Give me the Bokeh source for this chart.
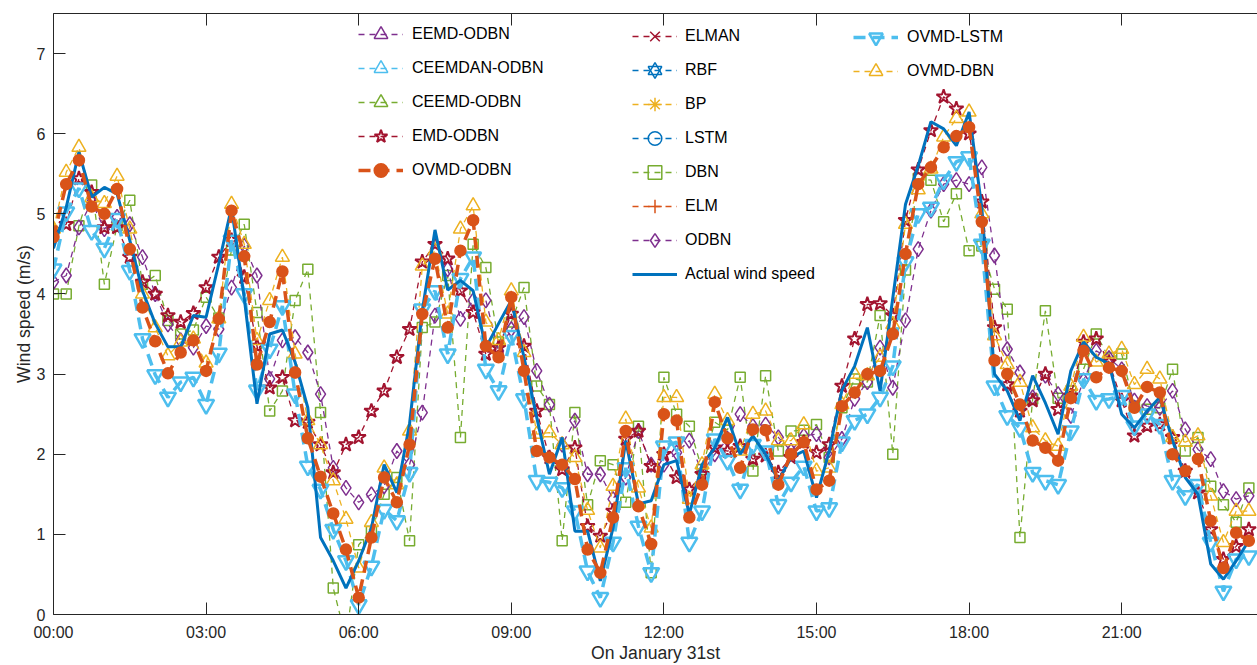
from bokeh.plotting import figure
from bokeh.models import (ColumnDataSource, Legend, LegendItem, LinearAxis,
                          FixedTicker, Range1d)
from bokeh.embed import file_html
from bokeh.resources import INLINE

# 15-minute samples on January 31st (wind speed, m/s)
step_hours = 0.25

actual_speed = [4.57, 5.08, 5.77, 5.21, 5.33, 5.25, 4.67, 4.04, 3.63, 3.34, 3.34, 3.73, 3.71, 4.38, 5.08, 3.95,
                2.63, 3.50, 3.55, 3.15, 2.58, 0.96, 0.67, 0.33, 0.67, 1.08, 1.87, 1.52, 2.38, 3.79, 4.80, 4.05,
                4.17, 4.04, 3.33, 3.63, 3.92, 3.21, 2.46, 1.75, 2.21, 1.04, 1.04, 0.42, 1.08, 2.17, 1.38, 1.42,
                1.87, 1.92, 1.25, 1.87, 2.08, 2.46, 2.00, 2.23, 2.00, 1.67, 1.96, 2.04, 1.46, 2.04, 2.80, 3.10,
                3.58, 2.79, 3.95, 5.12, 5.60, 6.15, 6.06, 5.85, 6.27, 5.08, 3.00, 2.79, 2.42, 2.98, 2.64, 2.25,
                3.04, 3.40, 3.21, 3.13, 2.50, 2.33, 2.54, 2.71, 2.17, 1.71, 1.50, 0.63, 0.44, 0.67, 0.92]

ovmd_odbn = [4.71, 5.37, 5.67, 5.09, 5.00, 5.31, 4.56, 3.83, 3.41, 3.01, 3.27, 3.42, 3.04, 3.69, 5.04, 4.47,
             3.12, 3.65, 4.28, 3.02, 2.20, 1.72, 1.26, 0.81, 0.21, 0.96, 1.71, 1.40, 2.12, 3.75, 4.44, 3.58,
             4.54, 4.92, 3.35, 3.21, 3.96, 3.04, 2.04, 1.96, 1.87, 1.69, 0.81, 0.52, 1.21, 2.29, 1.35, 0.88,
             2.50, 2.42, 1.21, 1.62, 2.65, 2.20, 1.83, 2.31, 2.30, 1.62, 2.00, 2.15, 1.56, 1.67, 2.60, 2.77,
             3.00, 3.04, 3.50, 4.50, 5.37, 5.58, 5.83, 5.97, 6.08, 4.90, 3.17, 3.00, 2.62, 2.17, 2.08, 1.92,
             2.70, 3.29, 2.96, 3.08, 3.04, 2.58, 2.84, 2.77, 2.00, 1.79, 1.94, 1.17, 0.58, 1.02, 0.92]

ovmd_lstm = [4.31, 5.02, 5.32, 4.79, 4.57, 4.94, 4.29, 3.44, 2.99, 2.71, 2.90, 2.96, 2.62, 3.26, 4.67, 4.00,
             2.80, 3.31, 3.85, 2.75, 1.85, 1.56, 1.06, 0.67, 0.12, 0.60, 1.31, 1.17, 1.77, 3.81, 4.04, 3.25,
             4.19, 4.46, 3.06, 2.79, 3.48, 2.69, 1.67, 1.65, 1.58, 1.29, 0.54, 0.21, 0.90, 1.83, 1.10, 0.52,
             2.10, 2.15, 0.90, 1.29, 2.19, 1.92, 1.56, 2.12, 2.04, 1.37, 1.65, 1.85, 1.29, 1.33, 2.15, 2.42,
             2.50, 2.71, 3.10, 4.40, 5.00, 5.08, 5.42, 5.65, 5.71, 4.62, 2.85, 2.48, 2.33, 1.77, 1.67, 1.62,
             2.29, 2.94, 2.67, 2.69, 2.73, 2.35, 2.50, 2.37, 1.67, 1.48, 1.62, 0.90, 0.29, 0.69, 0.73]

ovmd_dbn = [4.81, 5.52, 5.83, 5.20, 5.13, 5.47, 4.81, 4.00, 3.58, 3.23, 3.40, 3.44, 3.14, 3.69, 5.12, 4.62,
            3.42, 3.92, 4.46, 3.25, 2.42, 2.12, 1.67, 1.19, 0.58, 1.15, 1.83, 1.62, 2.29, 4.35, 4.54, 3.75,
            4.81, 5.10, 3.65, 3.42, 4.04, 3.27, 2.25, 2.27, 2.12, 1.96, 1.30, 0.83, 1.60, 2.44, 1.58, 1.08,
            2.71, 2.71, 1.44, 1.87, 2.75, 2.42, 2.04, 2.50, 2.54, 2.17, 2.17, 2.37, 1.79, 1.83, 2.62, 3.00,
            2.98, 3.21, 3.62, 4.87, 5.30, 5.56, 5.96, 6.19, 6.27, 5.00, 3.48, 3.12, 2.90, 2.33, 2.17, 2.10,
            2.85, 3.46, 3.15, 3.25, 3.31, 2.87, 3.06, 2.94, 2.21, 2.15, 2.23, 1.48, 0.90, 1.29, 1.29]

emd_odbn = [4.79, 4.87, 5.44, 5.27, 4.83, 4.83, 4.46, 4.15, 4.00, 3.73, 3.65, 3.76, 4.08, 4.46, 4.67, 4.21,
            3.35, 2.83, 2.96, 2.42, 2.40, 2.12, 1.77, 2.12, 2.21, 2.54, 2.79, 3.21, 3.56, 4.40, 4.62, 4.44,
            4.04, 3.77, 3.25, 3.33, 3.75, 3.35, 2.54, 1.96, 1.81, 2.08, 1.10, 0.98, 1.29, 2.19, 2.29, 1.85,
            2.00, 1.71, 1.56, 1.75, 2.08, 2.04, 2.10, 1.94, 1.98, 1.77, 1.96, 2.15, 2.02, 2.12, 2.85, 3.44,
            3.87, 3.88, 3.73, 4.92, 5.55, 6.04, 6.46, 6.31, 6.00, 5.15, 3.58, 2.87, 2.54, 2.67, 3.00, 2.56,
            2.73, 3.40, 3.44, 3.15, 2.67, 2.23, 2.35, 2.37, 2.21, 1.79, 1.52, 1.06, 0.69, 0.85, 1.06]

dbn = [4.00, 4.00, 4.85, 5.36, 4.12, 4.85, 5.17, 4.12, 4.23, 3.67, 3.50, 3.55, 3.96, 3.70, 4.55, 4.87,
       3.77, 2.54, 2.79, 3.92, 4.31, 2.52, 0.33, -0.30, 0.87, 1.04, 1.50, 1.71, 0.92, 3.58, 3.65, 4.23,
       2.21, 4.62, 4.33, 3.40, 3.65, 4.08, 2.85, 2.62, 0.92, 2.52, 1.37, 1.92, 1.87, 1.40, 2.35, 0.52,
       2.96, 2.50, 2.35, 1.81, 2.40, 2.30, 2.96, 1.79, 2.98, 2.04, 2.29, 2.30, 2.37, 1.96, 2.58, 2.94,
       2.90, 3.73, 2.00, 4.30, 5.44, 5.42, 4.90, 5.25, 4.54, 4.60, 4.06, 3.81, 0.96, 2.69, 3.79, 2.70,
       2.79, 3.06, 3.50, 3.20, 3.25, 2.60, 2.56, 2.58, 3.06, 2.04, 2.21, 1.60, 1.37, 1.15, 1.58]

odbn = [4.15, 4.23, 4.83, 5.15, 4.81, 4.96, 4.87, 4.46, 4.00, 3.62, 3.42, 3.33, 3.60, 3.56, 4.08, 4.60,
        4.23, 2.94, 3.42, 3.46, 3.27, 2.75, 1.83, 1.58, 1.40, 1.50, 1.60, 2.04, 1.87, 2.52, 3.73, 4.31,
        3.69, 3.92, 3.92, 3.29, 3.56, 3.71, 3.04, 2.62, 2.12, 2.42, 1.75, 1.75, 1.44, 1.71, 2.29, 1.87,
        1.87, 2.02, 2.17, 1.77, 2.00, 2.19, 2.50, 2.35, 2.37, 2.21, 2.04, 2.23, 2.25, 1.96, 2.19, 2.69,
        2.90, 3.33, 2.83, 3.67, 4.56, 5.04, 5.37, 5.42, 5.37, 5.58, 4.48, 3.31, 3.02, 2.71, 2.98, 2.75,
        2.48, 2.92, 3.29, 3.20, 3.06, 2.67, 2.60, 2.58, 2.79, 2.31, 2.06, 1.94, 1.54, 1.44, 1.48]

tick_hours = [0, 3, 6, 9, 12, 15, 18, 21]
tick_labels = ["00:00", "03:00", "06:00", "09:00", "12:00", "15:00", "18:00", "21:00"]
speed_ticks = [0, 1, 2, 3, 4, 5, 6, 7]

x_hours = [i * step_hours for i in range(len(actual_speed))]

BLUE = "#0072BD"
ORANGE = "#D95319"
YELLOW = "#EDB120"
PURPLE = "#7E2F8E"
GREEN = "#77AC30"
CYAN = "#4DBEEE"
DARKRED = "#A2142F"
AXIS = "#262626"
FONT = "Liberation Sans"

p = figure(width=1257, height=665, output_backend="svg", toolbar_location=None,
           x_range=Range1d(0, 23.67), y_range=Range1d(0, 7.5),
           min_border_left=53, min_border_right=0, min_border_top=13, min_border_bottom=51,
           background_fill_color="white", border_fill_color="white")
p.outline_line_color = None
p.grid.visible = False

# bottom / left axes with inward ticks
xa = p.xaxis[0]
xa.ticker = FixedTicker(ticks=tick_hours)
xa.major_label_overrides = {h: lab for h, lab in zip(tick_hours, tick_labels)}
xa.axis_label = "On January 31st"
ya = p.yaxis[0]
ya.ticker = FixedTicker(ticks=speed_ticks)
ya.axis_label = "Wind speed (m/s)"
for ax in (xa, ya):
    ax.major_tick_in = 12
    ax.major_tick_out = 0
    ax.minor_tick_line_color = None
    ax.axis_line_color = AXIS
    ax.major_tick_line_color = AXIS
    ax.major_label_text_font = FONT
    ax.major_label_text_font_size = "16px"
    ax.major_label_text_color = AXIS
    ax.axis_label_text_font = FONT
    ax.axis_label_text_font_size = "17.6px"
    ax.axis_label_text_font_style = "normal"
    ax.axis_label_text_color = AXIS
xa.major_label_standoff = 9
xa.axis_label_standoff = -1
xa.axis_label_text_line_height = 0.8
ya.major_label_standoff = 8
ya.axis_label_standoff = 0

# top box edge with inward ticks, no labels
top = LinearAxis(ticker=FixedTicker(ticks=tick_hours), major_tick_in=12, major_tick_out=0,
                 minor_tick_line_color=None, axis_line_color=AXIS, major_tick_line_color=AXIS,
                 major_label_text_color=None, major_label_text_font_size="1px",
                 major_label_standoff=0)
p.add_layout(top, "above")

THIN = dict(line_width=1.3, line_dash="6 5")
THICK = dict(line_width=3.5, line_dash="12 7")


def series(values, color, marker, line_kw, size, filled=False, mline=1.5):
    src = ColumnDataSource(data=dict(x=x_hours[:len(values)], y=values))
    ln = p.line("x", "y", source=src, line_color=color, **line_kw)
    mk = p.scatter("x", "y", source=src, marker=marker, size=size,
                   line_color=color, line_width=mline,
                   fill_color=color if filled else None)
    return [ln, mk]


def legend_only(color, markers, line_kw, filled=False, mline=1.5):
    # key entry for a model whose curve is not drawn
    src = ColumnDataSource(data=dict(x=[float("nan")], y=[float("nan")]))
    rs = [p.line("x", "y", source=src, line_color=color, **line_kw)]
    for m in markers:
        rs.append(p.scatter("x", "y", source=src, marker=m, size=12,
                            line_color=color, line_width=mline,
                            fill_color=color if filled else None))
    return rs


r_dbn = series(dbn, GREEN, "square", THIN, 10)
r_odbn = series(odbn, PURPLE, "diamond", THIN, 15)
r_emd = series(emd_odbn, DARKRED, "star", THIN, 15, mline=2)
r_ovdbn = series(ovmd_dbn, YELLOW, "triangle", THIN, 14)
r_ovlstm = series(ovmd_lstm, CYAN, "inverted_triangle", THICK, 16, mline=2.5)
src_act = ColumnDataSource(data=dict(x=x_hours, y=actual_speed))
r_act = [p.line("x", "y", source=src_act, line_color=BLUE, line_width=3)]
r_ovodbn = series(ovmd_odbn, ORANGE, "circle", THICK, 11, filled=True)

# models listed in the key only
r_eemd = legend_only(PURPLE, ["triangle"], THIN)
r_ceemdan = legend_only(CYAN, ["triangle"], THIN)
r_ceemd = legend_only(GREEN, ["triangle"], THIN)
r_elman = legend_only(DARKRED, ["x"], THIN)
r_rbf = legend_only(BLUE, ["triangle", "inverted_triangle"], THIN)
r_bp = legend_only(YELLOW, ["asterisk"], THIN)
r_lstm = legend_only(BLUE, ["circle"], THIN)
r_elm = legend_only(ORANGE, ["cross"], THIN)


def make_legend(pairs, top_px, left_px, standoff):
    # place a key by the screen position of its top-left corner in the frame
    rows = len(pairs)
    frame_h = 614 - 13
    lg = Legend(items=[LegendItem(label=t, renderers=r) for t, r in pairs],
                location=(left_px, frame_h - top_px - rows * 34),
                orientation="vertical", padding=0, margin=0, spacing=0,
                glyph_width=45, glyph_height=34, label_height=34, label_standoff=standoff,
                border_line_color=None, background_fill_alpha=0,
                label_text_font=FONT, label_text_font_size="16px", label_text_color="black")
    p.add_layout(lg)
    return lg


make_legend([("EEMD-ODBN", r_eemd), ("CEEMDAN-ODBN", r_ceemdan), ("CEEMD-ODBN", r_ceemd),
             ("EMD-ODBN", r_emd), ("OVMD-ODBN", r_ovodbn)], 4, 305, 9)
make_legend([("ELMAN", r_elman), ("RBF", r_rbf), ("BP", r_bp), ("LSTM", r_lstm), ("DBN", r_dbn),
             ("ELM", r_elm), ("ODBN", r_odbn), ("Actual wind speed", r_act)], 6, 579, 8)
make_legend([("OVMD-LSTM", r_ovlstm), ("OVMD-DBN", r_ovdbn)], 7, 800, 9)

open("out.html", "w").write(file_html(p, INLINE))
